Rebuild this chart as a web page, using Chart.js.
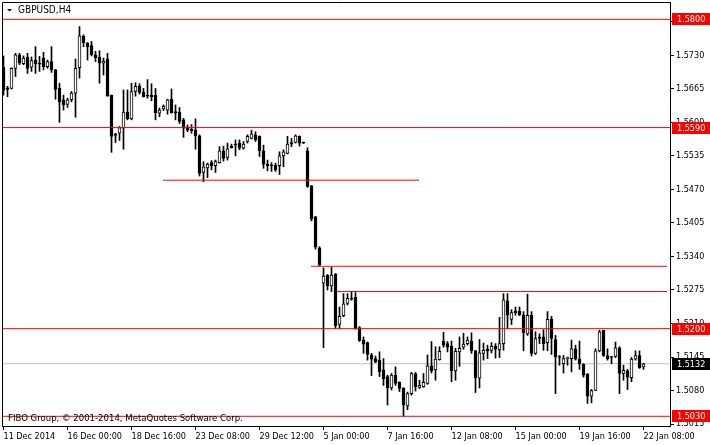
<!DOCTYPE html>
<html>
<head>
<meta charset="utf-8">
<script src="https://cdn.jsdelivr.net/npm/chart.js@4.4.1/dist/chart.umd.min.js"></script>
<style>
  body { margin: 0; background: #fff; }
  #wrap { width: 710px; height: 445px; }
</style>
</head>
<body>
<div id="wrap"><canvas id="myChart" width="710" height="445"></canvas></div>
<script>
// GBPUSD H4 candles (index 0 = first bar on the left)
const opens = [
  1.5707, 1.5667, 1.5666, 1.5705, 1.5731, 1.5714, 1.5727, 1.5707, 1.5721, 1.5715,
  1.5725, 1.5708, 1.5718, 1.5702, 1.5666, 1.5644, 1.5635, 1.5644, 1.5657, 1.5706,
  1.5767, 1.5754, 1.5749, 1.5731, 1.5727, 1.5715, 1.5723, 1.5653, 1.5578, 1.5579,
  1.5589, 1.5620, 1.5607, 1.5660, 1.5670, 1.5659, 1.5653, 1.5653, 1.5653, 1.5618,
  1.5626, 1.5624, 1.5645, 1.5621, 1.5620, 1.5605, 1.5591, 1.5587, 1.5585, 1.5574,
  1.5503, 1.5512, 1.5522, 1.5516, 1.5522, 1.5545, 1.5532, 1.5554, 1.5558, 1.5560,
  1.5550, 1.5563, 1.5569, 1.5576, 1.5573, 1.5545, 1.5519, 1.5517, 1.5517, 1.5516,
  1.5535, 1.5540, 1.5561, 1.5561, 1.5573, 1.5561, 1.5545, 1.5477, 1.5417, 1.5357,
  1.5288, 1.5304, 1.5283, 1.5306, 1.5208, 1.5225, 1.5249, 1.5259, 1.5261, 1.5202,
  1.5178, 1.5173, 1.5149, 1.5142, 1.5139, 1.5120, 1.5107, 1.5085, 1.5110, 1.5096,
  1.5085, 1.5050, 1.5074, 1.5113, 1.5086, 1.5087, 1.5094, 1.5128, 1.5120, 1.5140,
  1.5176, 1.5171, 1.5166, 1.5118, 1.5155, 1.5164, 1.5171, 1.5176, 1.5157, 1.5104,
  1.5152, 1.5160, 1.5158, 1.5166, 1.5159, 1.5171, 1.5254, 1.5218, 1.5234, 1.5234,
  1.5226, 1.5190, 1.5226, 1.5152, 1.5183, 1.5184, 1.5173, 1.5218, 1.5179, 1.5146,
  1.5132, 1.5142, 1.5142, 1.5161, 1.5141, 1.5131, 1.5112, 1.5069, 1.5080, 1.5157,
  1.5197, 1.5148, 1.5146, 1.5146, 1.5163, 1.5113, 1.5118, 1.5105, 1.5141, 1.5148,
  1.5126
];
const highs = [
  1.5729, 1.5670, 1.5706, 1.5734, 1.5734, 1.5729, 1.5734, 1.5727, 1.5747, 1.5728,
  1.5736, 1.5721, 1.5747, 1.5703, 1.5676, 1.5653, 1.5647, 1.5660, 1.5723, 1.5786,
  1.5770, 1.5755, 1.5757, 1.5738, 1.5739, 1.5725, 1.5734, 1.5653, 1.5579, 1.5592,
  1.5663, 1.5663, 1.5676, 1.5677, 1.5675, 1.5666, 1.5683, 1.5675, 1.5666, 1.5628,
  1.5634, 1.5645, 1.5665, 1.5634, 1.5629, 1.5608, 1.5595, 1.5596, 1.5607, 1.5576,
  1.5524, 1.5521, 1.5526, 1.5527, 1.5553, 1.5554, 1.5560, 1.5558, 1.5566, 1.5566,
  1.5563, 1.5576, 1.5585, 1.5582, 1.5574, 1.5556, 1.5527, 1.5522, 1.5521, 1.5543,
  1.5547, 1.5573, 1.5569, 1.5576, 1.5574, 1.5562, 1.5551, 1.5478, 1.5418, 1.5359,
  1.5318, 1.5305, 1.5319, 1.5307, 1.5242, 1.5268, 1.5268, 1.5272, 1.5270, 1.5204,
  1.5184, 1.5174, 1.5152, 1.5147, 1.5155, 1.5142, 1.5110, 1.5113, 1.5126, 1.5097,
  1.5085, 1.5077, 1.5115, 1.5115, 1.5100, 1.5113, 1.5149, 1.5175, 1.5165, 1.5165,
  1.5193, 1.5175, 1.5176, 1.5162, 1.5184, 1.5191, 1.5184, 1.5192, 1.5158, 1.5179,
  1.5172, 1.5168, 1.5173, 1.5171, 1.5222, 1.5268, 1.5268, 1.5237, 1.5242, 1.5242,
  1.5233, 1.5267, 1.5233, 1.5194, 1.5190, 1.5198, 1.5233, 1.5224, 1.5187, 1.5148,
  1.5148, 1.5145, 1.5178, 1.5168, 1.5176, 1.5132, 1.5113, 1.5082, 1.5161, 1.5197,
  1.5197, 1.5161, 1.5146, 1.5174, 1.5165, 1.5129, 1.5121, 1.5144, 1.5157, 1.5157,
  1.5133
];
const lows = [
  1.5653, 1.5650, 1.5665, 1.5689, 1.5712, 1.5712, 1.5695, 1.5699, 1.5695, 1.5699,
  1.5702, 1.5705, 1.5697, 1.5645, 1.5600, 1.5624, 1.5629, 1.5640, 1.5610, 1.5686,
  1.5747, 1.5721, 1.5729, 1.5718, 1.5676, 1.5692, 1.5651, 1.5542, 1.5561, 1.5565,
  1.5548, 1.5605, 1.5605, 1.5651, 1.5655, 1.5649, 1.5647, 1.5642, 1.5605, 1.5611,
  1.5623, 1.5616, 1.5618, 1.5605, 1.5598, 1.5571, 1.5582, 1.5579, 1.5548, 1.5496,
  1.5485, 1.5493, 1.5508, 1.5503, 1.5521, 1.5525, 1.5527, 1.5550, 1.5535, 1.5547,
  1.5548, 1.5560, 1.5568, 1.5563, 1.5534, 1.5511, 1.5506, 1.5505, 1.5505, 1.5499,
  1.5514, 1.5539, 1.5553, 1.5560, 1.5554, 1.5559, 1.5474, 1.5409, 1.5354, 1.5322,
  1.5163, 1.5275, 1.5272, 1.5200, 1.5200, 1.5223, 1.5246, 1.5255, 1.5199, 1.5175,
  1.5152, 1.5139, 1.5109, 1.5134, 1.5107, 1.5090, 1.5052, 1.5081, 1.5090, 1.5078,
  1.5030, 1.5043, 1.5071, 1.5079, 1.5084, 1.5086, 1.5092, 1.5114, 1.5100, 1.5139,
  1.5164, 1.5155, 1.5097, 1.5100, 1.5127, 1.5160, 1.5168, 1.5152, 1.5076, 1.5085,
  1.5139, 1.5142, 1.5153, 1.5143, 1.5144, 1.5158, 1.5200, 1.5208, 1.5226, 1.5225,
  1.5157, 1.5187, 1.5147, 1.5150, 1.5171, 1.5158, 1.5157, 1.5150, 1.5074, 1.5129,
  1.5114, 1.5129, 1.5116, 1.5139, 1.5121, 1.5106, 1.5055, 1.5056, 1.5080, 1.5155,
  1.5146, 1.5139, 1.5132, 1.5144, 1.5074, 1.5100, 1.5082, 1.5097, 1.5139, 1.5123,
  1.5121
];
const closes = [
  1.5662, 1.5664, 1.5705, 1.5731, 1.5715, 1.5725, 1.5705, 1.5720, 1.5714, 1.5713,
  1.5708, 1.5718, 1.5702, 1.5664, 1.5640, 1.5634, 1.5644, 1.5657, 1.5705, 1.5768,
  1.5754, 1.5747, 1.5731, 1.5725, 1.5715, 1.5719, 1.5651, 1.5573, 1.5575, 1.5590,
  1.5620, 1.5607, 1.5660, 1.5670, 1.5658, 1.5650, 1.5651, 1.5650, 1.5619, 1.5624,
  1.5631, 1.5644, 1.5619, 1.5618, 1.5602, 1.5589, 1.5585, 1.5584, 1.5574, 1.5501,
  1.5514, 1.5519, 1.5516, 1.5524, 1.5545, 1.5530, 1.5549, 1.5551, 1.5556, 1.5550,
  1.5558, 1.5573, 1.5578, 1.5566, 1.5545, 1.5519, 1.5516, 1.5516, 1.5508, 1.5535,
  1.5543, 1.5558, 1.5558, 1.5574, 1.5560, 1.5560, 1.5476, 1.5413, 1.5358, 1.5323,
  1.5302, 1.5283, 1.5304, 1.5206, 1.5224, 1.5248, 1.5259, 1.5257, 1.5200, 1.5177,
  1.5170, 1.5150, 1.5141, 1.5136, 1.5116, 1.5103, 1.5085, 1.5110, 1.5094, 1.5084,
  1.5052, 1.5074, 1.5113, 1.5087, 1.5090, 1.5096, 1.5128, 1.5118, 1.5141, 1.5156,
  1.5168, 1.5164, 1.5118, 1.5156, 1.5162, 1.5170, 1.5178, 1.5157, 1.5105, 1.5153,
  1.5158, 1.5157, 1.5166, 1.5160, 1.5171, 1.5256, 1.5226, 1.5231, 1.5231, 1.5227,
  1.5192, 1.5226, 1.5152, 1.5181, 1.5181, 1.5171, 1.5218, 1.5181, 1.5145, 1.5144,
  1.5142, 1.5144, 1.5161, 1.5141, 1.5132, 1.5110, 1.5069, 1.5080, 1.5157, 1.5194,
  1.5148, 1.5142, 1.5144, 1.5163, 1.5113, 1.5119, 1.5106, 1.5141, 1.5148, 1.5124,
  1.5132
];

// time axis labels, one every 16 bars
const timeTicks = [0, 16, 32, 48, 64, 80, 96, 112, 128, 144, 160];
const timeLabels = [
  "11 Dec 2014", "16 Dec 00:00", "18 Dec 16:00", "23 Dec 08:00", "29 Dec 12:00",
  "5 Jan 00:00", "7 Jan 16:00", "12 Jan 08:00", "15 Jan 00:00", "19 Jan 16:00", "22 Jan 08:00",
];
const priceTicks = [
  1.5015, 1.5080, 1.5145, 1.5210, 1.5275, 1.5340, 1.5405,
  1.5470, 1.5535, 1.5600, 1.5665, 1.5730, 1.5795,
];

// horizontal levels across the whole chart
const levelPrices = [1.5800, 1.5590, 1.5200, 1.5030];
const bidPrice = 1.5132;
// shorter drawn levels: [from bar, to bar, price]
const segStart = [39.9, 76.9, 83.3];
const segEnd = [103.9, 165.9, 165.9];
const segPrice = [1.5488, 1.5321, 1.5272];

const FONT = "'DejaVu Sans Condensed', 'DejaVu Sans', sans-serif";
const xMin = -0.375;
const xMax = 166.625;
const yMin = 1.50112;
const yMax = 1.58336;

Chart.defaults.font.family = FONT;
Chart.defaults.font.size = 9;
Chart.defaults.color = "#000";

const isBull = (i) => closes[i] >= opens[i];

const datasets = [
  {
    label: "body",
    data: opens.map((o, i) => ({ x: i, y: [o, closes[i]] })),
    backgroundColor: (ctx) => (isBull(ctx.dataIndex) ? "#ffffff" : "#000000"),
    borderColor: "#000000",
    borderWidth: 1,
    borderSkipped: false,
    barThickness: 3,
    minBarLength: 1,
    grouped: false,
    order: 0,
  },
  {
    label: "wick",
    data: highs.map((h, i) => ({ x: i, y: [lows[i], h] })),
    backgroundColor: "#000000",
    borderWidth: 0,
    barThickness: 1,
    grouped: false,
    order: 1,
  },
];

// red levels sit on top of the candles, the grey bid line under them
const redLine = (data) => ({
  type: "line",
  data: data,
  borderColor: "rgb(255, 0, 0)",
  borderWidth: 1,
  pointRadius: 0,
  order: -1,
});
levelPrices.forEach((p) => {
  datasets.push(redLine([{ x: xMin, y: p }, { x: xMax, y: p }]));
});
segPrice.forEach((p, k) => {
  datasets.push(redLine([{ x: segStart[k], y: p }, { x: segEnd[k], y: p }]));
});
datasets.push({
  type: "line",
  data: [{ x: xMin, y: bidPrice }, { x: xMax, y: bidPrice }],
  borderColor: "#c0c0c0",
  borderWidth: 1,
  pointRadius: 0,
  order: 3,
});

// frame, symbol caption, copyright line and price tags on the right
const overlay = {
  id: "overlay",
  afterDraw(chart) {
    const ctx = chart.ctx;
    const a = chart.chartArea;
    const ys = chart.scales.y;
    ctx.save();
    ctx.strokeStyle = "#000";
    ctx.lineWidth = 1;
    ctx.beginPath();
    ctx.moveTo(a.left + 0.5, a.bottom);
    ctx.lineTo(a.left + 0.5, a.top + 0.5);
    ctx.lineTo(a.right, a.top + 0.5);
    ctx.stroke();

    ctx.textBaseline = "middle";
    ctx.textAlign = "left";
    ctx.fillStyle = "#000";
    ctx.beginPath();
    ctx.moveTo(7, 9);
    ctx.lineTo(12, 9);
    ctx.lineTo(9.5, 11.5);
    ctx.closePath();
    ctx.fill();
    ctx.font = "10px " + FONT;
    ctx.fillText("GBPUSD,H4", 18, 10);
    ctx.font = "9.5px " + FONT;
    ctx.fillText("FIBO Group, \u00a9 2001-2014, MetaQuotes Software Corp.", 8, 419);

    ctx.font = "9px " + FONT;
    const tag = (price, bg) => {
      const y = Math.round(ys.getPixelForValue(price));
      ctx.fillStyle = bg;
      ctx.fillRect(a.right + 2, y - 6, chart.width - a.right - 2, 12);
      ctx.fillStyle = "#fff";
      ctx.fillText(price.toFixed(4), a.right + 7, y + 0.5);
    };
    levelPrices.forEach((p) => tag(p, "#ff0000"));
    tag(bidPrice, "#000000");
    ctx.restore();
  },
};

const config = {
  type: "bar",
  data: { datasets: datasets },
  options: {
    responsive: false,
    animation: false,
    events: [],
    layout: { padding: { left: 2, top: 2, right: 0, bottom: 0 } },
    plugins: {
      legend: { display: false },
      tooltip: { enabled: false },
    },
    scales: {
      x: {
        type: "linear",
        offset: false,
        min: xMin,
        max: xMax,
        afterBuildTicks: (s) => {
          s.ticks = timeTicks.map((v) => ({ value: v }));
        },
        afterFit: (s) => {
          s.height = 19;
          s.paddingLeft = 0;
          s.paddingRight = 0;
        },
        ticks: {
          callback: (v, i) => timeLabels[i],
          align: "start",
          autoSkip: false,
          maxRotation: 0,
          padding: 1,
          color: "#000",
        },
        grid: { offset: false, drawOnChartArea: false, color: "#000", tickLength: 4 },
        border: { color: "#000" },
      },
      y: {
        position: "right",
        min: yMin,
        max: yMax,
        afterBuildTicks: (s) => {
          s.ticks = priceTicks.map((v) => ({ value: v }));
        },
        afterFit: (s) => {
          s.width = 40;
          s.paddingTop = 0;
          s.paddingBottom = 0;
        },
        ticks: {
          callback: (v) => v.toFixed(4),
          padding: 2,
          color: "#000",
        },
        grid: { drawOnChartArea: false, color: "#000", tickLength: 4 },
        border: { color: "#000" },
      },
    },
  },
  plugins: [overlay],
};

const myChart = new Chart(document.getElementById("myChart"), config);
</script>
</body>
</html>
